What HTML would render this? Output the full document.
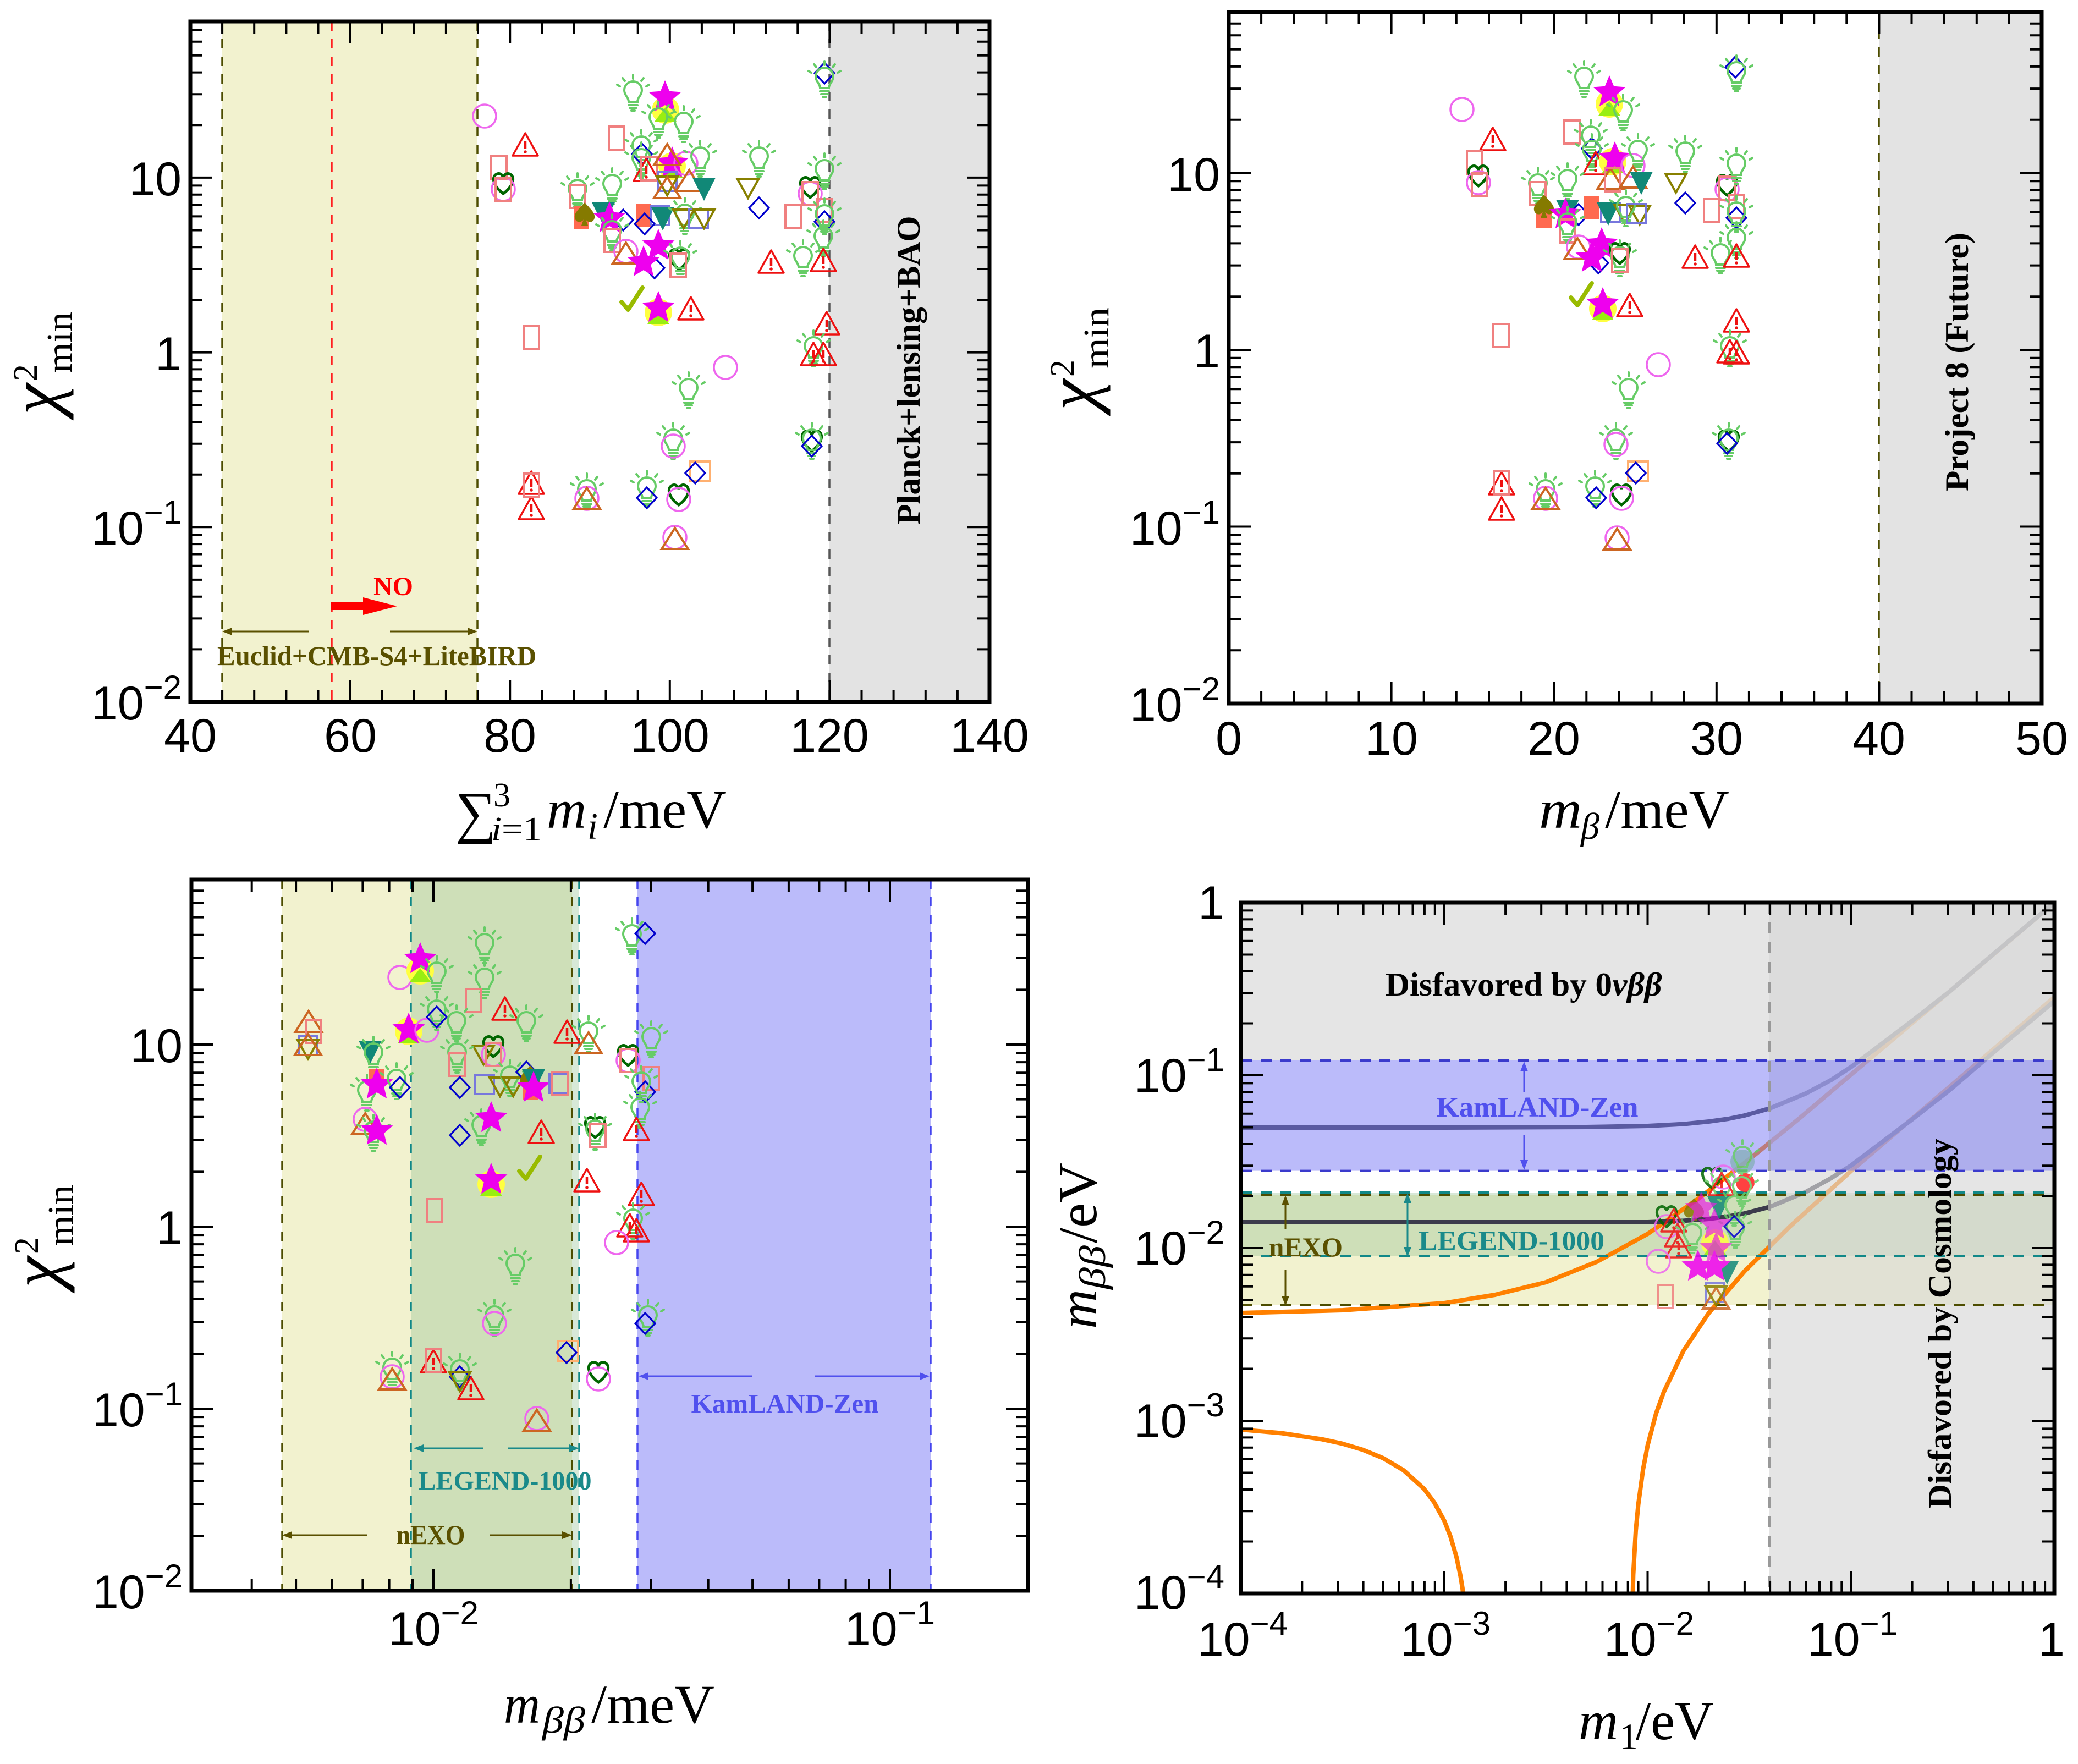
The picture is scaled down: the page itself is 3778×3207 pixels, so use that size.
<!DOCTYPE html>
<html><head><meta charset="utf-8">
<style>
html,body{margin:0;padding:0;background:#fff}
svg{display:block}
.tk{font-family:"Liberation Sans",Arial,sans-serif;font-size:86px;fill:#000}
.sp{font-size:60px}
.ti{font-family:"Liberation Serif","DejaVu Serif",serif;font-size:100px;fill:#000}
.it{font-style:italic}
.an{font-family:"Liberation Serif","DejaVu Serif",serif;font-weight:bold}
</style></head><body>
<svg xmlns="http://www.w3.org/2000/svg" width="3778" height="3207" viewBox="0 0 3778 3207">
<defs>
<clipPath id="c1"><rect x="346" y="39" width="1453" height="1237"/></clipPath>
<clipPath id="c2"><rect x="2234" y="22" width="1478" height="1257"/></clipPath>
<clipPath id="c3"><rect x="348" y="1599" width="1521" height="1293"/></clipPath>
<clipPath id="c4"><rect x="2256" y="1641" width="1479" height="1256"/></clipPath>
<g id="b" fill="none" stroke="#66cc66" stroke-width="4" stroke-linecap="round"><path d="M-8,12C-8,4 -16,0 -16,-9A16,16 0 0 1 16,-9C16,0 8,4 8,12Z"/><path d="M-8,18h16M-6,23h12M-3,28h6M0,-30v-7M-15,-26l-4,-5M15,-26l4,-5M-24,-16l-5,-3M24,-16l5,-3"/></g>
<g id="w"><polygon points="0,-25 23,16 -23,16" fill="none" stroke="#ee1111" stroke-width="3.5" stroke-linejoin="round"/><path d="M0,-11v14" stroke="#ee1111" stroke-width="4.5"/><circle cy="9" r="2.8" fill="#ee1111"/></g>
<circle id="c" r="21" fill="none" stroke="#ee66ee" stroke-width="3.5"/>
<rect id="r" x="-14" y="-21" width="28" height="42" fill="none" stroke="#f08080" stroke-width="4"/>
<polygon id="d" points="0,-19 18,0 0,19 -18,0" fill="none" stroke="#0000cc" stroke-width="3.2"/>
<polygon id="t" points="0,-21 24,17 -24,17" fill="none" stroke="#cc6622" stroke-width="4"/>
<polygon id="v" points="-19,-16 19,-16 0,18" fill="none" stroke="#888000" stroke-width="4"/>
<polygon id="f" points="-21,-20 21,-20 0,22" fill="#118877"/>
<polygon id="s" points="0,-31 8.2,-11.3 29.5,-9.6 13.3,4.3 18.2,25.1 0,14 -18.2,25.1 -13.3,4.3 -29.5,-9.6 -8.2,-11.3" fill="#ee00ee"/>
<g id="z"><circle r="25" fill="#ffff40"/><polygon points="-20,21 20,21 0,-5" fill="#99ee11"/></g>
<path id="k" d="M0,-22C10,-10 22,-2 17,9C13,16 5,14 2,9L6,20H-6L-2,9C-5,14 -13,16 -17,9C-22,-2 -10,-10 0,-22Z" fill="#857a00"/>
<rect id="q" x="-14" y="-21" width="28" height="42" fill="#ff6a50"/>
<rect id="u" x="-17" y="-17" width="34" height="34" fill="none" stroke="#7777dd" stroke-width="4"/>
<path id="h" d="M0,20C-20,5 -22,-12 -11,-16C-5,-18 -1,-13 0,-9C1,-13 5,-18 11,-16C22,-12 20,5 0,20Z" fill="none" stroke="#006600" stroke-width="5"/>
<path id="x" d="M-20,2L-8,16L18,-24" fill="none" stroke="#99bb00" stroke-width="8" stroke-linecap="round" stroke-linejoin="round"/>
<rect id="o" x="-18" y="-18" width="36" height="36" fill="none" stroke="#ffb070" stroke-width="4"/>
</defs>
<rect width="3778" height="3207" fill="#fff"/>

<!-- ================= PANEL 1 ================= -->
<g clip-path="url(#c1)">
<rect x="404" y="39" width="464" height="1237" fill="rgb(230,230,160)" opacity="0.5"/>
<rect x="1508" y="39" width="291" height="1237" fill="#e3e3e3"/>
<g stroke-width="3.5" stroke-dasharray="17 15" fill="none">
<line x1="404" y1="39" x2="404" y2="1276" stroke="#4d4d00"/>
<line x1="868" y1="39" x2="868" y2="1276" stroke="#4d4d00"/>
<line x1="603" y1="39" x2="603" y2="1276" stroke="#ff2020"/>
<line x1="1508" y1="39" x2="1508" y2="1276" stroke="#555"/>
</g>
<use href="#c" x="881" y="211"/><use href="#w" x="955" y="267"/><use href="#r" x="1121" y="251"/><use href="#r" x="907" y="304"/>
<use href="#h" x="915" y="332"/><use href="#c" x="915" y="344"/><use href="#r" x="915" y="344"/>
<use href="#b" x="1151" y="173"/><use href="#z" x="1210" y="200"/><use href="#s" x="1209" y="177"/>
<use href="#b" x="1197" y="222"/><use href="#b" x="1243" y="230"/>
<use href="#b" x="1166" y="273"/><use href="#d" x="1167" y="280"/><use href="#b" x="1166" y="296"/>
<use href="#w" x="1175" y="313"/><use href="#r" x="1180" y="307"/>
<use href="#z" x="1222" y="302"/><use href="#s" x="1222" y="297"/><use href="#c" x="1247" y="297"/>
<use href="#t" x="1213" y="283"/><use href="#u" x="1213" y="330"/><use href="#v" x="1213" y="337"/><use href="#t" x="1213" y="343"/><use href="#t" x="1253" y="330"/>
<use href="#b" x="1273" y="293"/><use href="#f" x="1280" y="343"/>
<use href="#b" x="1380" y="293"/><use href="#v" x="1360" y="342"/><use href="#d" x="1380" y="378"/>
<use href="#r" x="1442" y="393"/>
<use href="#h" x="1473" y="339"/><use href="#c" x="1473" y="352"/><use href="#r" x="1473" y="352"/><use href="#b" x="1499" y="316"/><use href="#r" x="1499" y="383"/><use href="#d" x="1499" y="403"/><use href="#b" x="1499" y="398"/>
<use href="#d" x="1499" y="133"/><use href="#b" x="1499" y="148"/>
<use href="#b" x="1050" y="352"/><use href="#r" x="1050" y="357"/><use href="#b" x="1113" y="343"/>
<use href="#q" x="1057" y="396"/><use href="#k" x="1063" y="390"/>
<use href="#f" x="1097" y="388"/><use href="#d" x="1133" y="400"/><use href="#s" x="1108" y="397"/>
<use href="#q" x="1170" y="392"/><use href="#u" x="1200" y="392"/><use href="#f" x="1205" y="397"/><use href="#d" x="1172" y="407"/><use href="#b" x="1245" y="397"/><use href="#v" x="1243" y="397"/><use href="#u" x="1270" y="397"/><use href="#v" x="1280" y="397"/>
<use href="#b" x="1113" y="427"/><use href="#r" x="1113" y="437"/>
<use href="#c" x="1138" y="457"/><use href="#t" x="1138" y="462"/>
<use href="#d" x="1190" y="487"/><use href="#s" x="1170" y="477"/><use href="#s" x="1197" y="447"/>
<use href="#h" x="1235" y="470"/><use href="#b" x="1237" y="475"/><use href="#r" x="1233" y="482"/>
<use href="#w" x="1402" y="480"/>
<use href="#b" x="1460" y="474"/><use href="#b" x="1497" y="438"/><use href="#w" x="1497" y="477"/>
<use href="#x" x="1150" y="547"/><use href="#z" x="1197" y="568"/><use href="#s" x="1197" y="560"/>
<use href="#w" x="1256" y="565"/>
<use href="#r" x="966" y="614"/>
<use href="#w" x="1503" y="592"/><use href="#b" x="1479" y="638"/><use href="#w" x="1497" y="648"/><use href="#w" x="1479" y="648"/>
<use href="#c" x="1319" y="668"/>
<use href="#b" x="1252" y="714"/>
<use href="#b" x="1224" y="806"/><use href="#c" x="1224" y="811"/>
<use href="#h" x="1476" y="800"/><use href="#b" x="1476" y="806"/><use href="#d" x="1476" y="811"/>
<use href="#o" x="1273" y="857"/><use href="#d" x="1264" y="860"/>
<use href="#w" x="966" y="882"/><use href="#w" x="966" y="928"/><use href="#r" x="966" y="882"/>
<use href="#b" x="1067" y="898"/><use href="#c" x="1067" y="906"/><use href="#t" x="1067" y="908"/>
<use href="#b" x="1176" y="893"/><use href="#d" x="1176" y="905"/>
<use href="#h" x="1234" y="898"/><use href="#c" x="1234" y="908"/>
<use href="#c" x="1227" y="977"/><use href="#t" x="1227" y="981"/>
<!-- annotations -->
<g stroke="#5a5000" stroke-width="3"><line x1="561" y1="1148" x2="420" y2="1148"/><line x1="709" y1="1148" x2="851" y2="1148"/></g>
<polygon points="404,1148 422,1141 422,1155" fill="#5a5000"/><polygon points="868,1148 850,1141 850,1155" fill="#5a5000"/>
<polygon points="602,1095 660,1095 660,1086 722,1102 660,1118 660,1109 602,1109" fill="#ff0000"/>
<text class="an" x="715" y="1082" text-anchor="middle" font-size="48" fill="#ff0000">NO</text>
<text class="an" x="685" y="1209" text-anchor="middle" font-size="50" fill="#5a5000" textLength="580" lengthAdjust="spacingAndGlyphs">Euclid+CMB-S4+LiteBIRD</text>
<text class="an" transform="translate(1672,673) rotate(-90)" text-anchor="middle" font-size="60" fill="#000" textLength="561" lengthAdjust="spacingAndGlyphs">Planck+lensing+BAO</text>
</g>
<g stroke="#000" stroke-width="4" fill="none">
<path id="p1b" d="M636.6,1276v-40M927.2,1276v-40M1217.8,1276v-40M1508.4,1276v-40M404.1,1276v-22M462.2,1276v-22M520.4,1276v-22M578.5,1276v-22M694.7,1276v-22M752.8,1276v-22M810.9,1276v-22M869,1276v-22M985.3,1276v-22M1043.4,1276v-22M1101.5,1276v-22M1159.7,1276v-22M1275.9,1276v-22M1334,1276v-22M1392.2,1276v-22M1450.3,1276v-22M1566.5,1276v-22M1624.6,1276v-22M1682.8,1276v-22M1740.9,1276v-22"/>
<use href="#p1b" transform="translate(0,1315) scale(1,-1)"/>
<path id="p1l" d="M346,958.3h40M346,640.6h40M346,322.9h40M346,1180.4h22M346,1124.4h22M346,1084.7h22M346,1053.9h22M346,1028.8h22M346,1007.5h22M346,989.1h22M346,972.8h22M346,862.7h22M346,806.7h22M346,767h22M346,736.2h22M346,711.1h22M346,689.8h22M346,671.4h22M346,655.1h22M346,545h22M346,489h22M346,449.3h22M346,418.5h22M346,393.4h22M346,372.1h22M346,353.7h22M346,337.4h22M346,227.3h22M346,171.3h22M346,131.6h22M346,100.8h22M346,75.7h22M346,54.4h22"/>
<use href="#p1l" transform="translate(2145,0) scale(-1,1)"/>
<rect x="346" y="39" width="1453" height="1237" stroke-width="7"/>
</g>
<g class="tk" text-anchor="middle">
<text x="346" y="1367">40</text><text x="637" y="1367">60</text><text x="927" y="1367">80</text><text x="1218" y="1367">100</text><text x="1508" y="1367">120</text><text x="1799" y="1367">140</text>
</g>
<g class="tk" text-anchor="end">
<text x="330" y="355">10</text><text x="330" y="673">1</text>
<text x="330" y="990">10<tspan class="sp" dy="-38">−1</tspan></text>
<text x="330" y="1308">10<tspan class="sp" dy="-38">−2</tspan></text>
</g>
<g class="ti">
<text x="828" y="1512" font-size="104">∑</text>
<text x="897" y="1466" font-size="62">3</text>
<text x="893" y="1528" font-size="62" textLength="92" lengthAdjust="spacingAndGlyphs"><tspan class="it">i</tspan>=1</text>
<text x="994" y="1505" class="it">m</text>
<text x="1068" y="1525" font-size="68" class="it">i</text>
<text x="1097" y="1505" textLength="224" lengthAdjust="spacingAndGlyphs">/meV</text>
</g>
<g class="ti" transform="translate(106,658) rotate(-90)">
<text x="-96" y="0" font-size="128" class="it">χ</text>
<text x="-35" y="-39" font-size="62">2</text>
<text x="-20" y="24" font-size="66" textLength="111" lengthAdjust="spacingAndGlyphs">min</text>
</g>

<!-- ================= PANEL 2 ================= -->
<g clip-path="url(#c2)">
<rect x="3416" y="22" width="296" height="1257" fill="#e3e3e3"/>
<line x1="3416" y1="22" x2="3416" y2="1279" stroke="#4d4d00" stroke-width="3.5" stroke-dasharray="17 15"/>
<use href="#c" x="2658" y="199"/><use href="#w" x="2714" y="257"/><use href="#r" x="2858" y="240"/>
<use href="#r" x="2681" y="296"/><use href="#h" x="2688" y="318"/><use href="#c" x="2688" y="332"/><use href="#r" x="2690" y="335"/>
<use href="#b" x="2880" y="148"/><use href="#z" x="2926" y="189"/><use href="#s" x="2926" y="168"/><use href="#b" x="2951" y="209"/>
<use href="#b" x="2892" y="255"/><use href="#d" x="2894" y="270"/><use href="#b" x="2894" y="281"/>
<use href="#w" x="2901" y="301"/><use href="#z" x="2932" y="294"/><use href="#s" x="2936" y="288"/><use href="#c" x="2969" y="301"/><use href="#b" x="2978" y="281"/>
<use href="#t" x="2928" y="327"/><use href="#r" x="2932" y="327"/><use href="#t" x="2969" y="324"/><use href="#f" x="2984" y="332"/>
<use href="#b" x="3064" y="284"/><use href="#v" x="3047" y="332"/><use href="#d" x="3064" y="369"/>
<use href="#r" x="3112" y="383"/>
<use href="#h" x="3140" y="335"/><use href="#c" x="3140" y="344"/><use href="#r" x="3140" y="342"/><use href="#b" x="3157" y="306"/><use href="#r" x="3157" y="376"/><use href="#d" x="3157" y="396"/><use href="#b" x="3157" y="393"/><use href="#b" x="3157" y="441"/>
<use href="#d" x="3155" y="122"/><use href="#b" x="3157" y="138"/>
<use href="#b" x="2796" y="342"/><use href="#r" x="2796" y="352"/><use href="#b" x="2850" y="334"/>
<use href="#q" x="2807" y="393"/><use href="#k" x="2807" y="376"/><use href="#f" x="2850" y="383"/><use href="#d" x="2870" y="390"/><use href="#s" x="2846" y="390"/>
<use href="#q" x="2894" y="378"/><use href="#u" x="2928" y="386"/><use href="#f" x="2924" y="388"/><use href="#v" x="2954" y="388"/><use href="#v" x="2981" y="390"/><use href="#b" x="2956" y="383"/><use href="#u" x="2975" y="388"/>
<use href="#r" x="2850" y="420"/><use href="#b" x="2850" y="413"/>
<use href="#c" x="2870" y="449"/><use href="#t" x="2868" y="454"/>
<use href="#d" x="2906" y="478"/><use href="#s" x="2894" y="469"/><use href="#s" x="2912" y="444"/>
<use href="#h" x="2945" y="459"/><use href="#b" x="2945" y="474"/><use href="#r" x="2945" y="474"/>
<use href="#w" x="3082" y="471"/><use href="#b" x="3128" y="469"/><use href="#w" x="3157" y="469"/>
<use href="#x" x="2876" y="539"/><use href="#z" x="2914" y="561"/><use href="#s" x="2914" y="553"/>
<use href="#w" x="2963" y="559"/>
<use href="#r" x="2729" y="610"/>
<use href="#w" x="3157" y="587"/><use href="#b" x="3145" y="638"/><use href="#w" x="3145" y="643"/><use href="#w" x="3157" y="645"/>
<use href="#c" x="3015" y="663"/>
<use href="#b" x="2961" y="714"/>
<use href="#b" x="2938" y="806"/><use href="#c" x="2938" y="808"/>
<use href="#h" x="3143" y="800"/><use href="#b" x="3143" y="806"/><use href="#d" x="3140" y="806"/>
<use href="#o" x="2978" y="857"/><use href="#d" x="2974" y="860"/>
<use href="#w" x="2730" y="883"/><use href="#w" x="2730" y="929"/><use href="#r" x="2730" y="878"/>
<use href="#b" x="2810" y="898"/><use href="#c" x="2810" y="906"/><use href="#t" x="2810" y="908"/>
<use href="#b" x="2900" y="893"/><use href="#d" x="2902" y="905"/>
<use href="#h" x="2948" y="898"/><use href="#c" x="2948" y="906"/>
<use href="#c" x="2940" y="978"/><use href="#t" x="2940" y="982"/>
<text class="an" transform="translate(3578,658) rotate(-90)" text-anchor="middle" font-size="60" fill="#000" textLength="470" lengthAdjust="spacingAndGlyphs">Project 8 (Future)</text>
</g>
<g stroke="#000" stroke-width="4" fill="none">
<path id="p2b" d="M2529.6,1279v-40M2825.2,1279v-40M3120.8,1279v-40M3416.4,1279v-40M2293.1,1279v-22M2352.2,1279v-22M2411.4,1279v-22M2470.5,1279v-22M2588.7,1279v-22M2647.8,1279v-22M2707,1279v-22M2766.1,1279v-22M2884.3,1279v-22M2943.4,1279v-22M3002.6,1279v-22M3061.7,1279v-22M3179.9,1279v-22M3239,1279v-22M3298.2,1279v-22M3357.3,1279v-22M3475.5,1279v-22M3534.6,1279v-22M3593.8,1279v-22M3652.9,1279v-22"/>
<use href="#p2b" transform="translate(0,1301) scale(1,-1)"/>
<path id="p2l" d="M2234,957.5h40M2234,636h40M2234,314.5h40M2234,1182.2h22M2234,1125.6h22M2234,1085.4h22M2234,1054.3h22M2234,1028.8h22M2234,1007.3h22M2234,988.7h22M2234,972.2h22M2234,860.7h22M2234,804.1h22M2234,763.9h22M2234,732.8h22M2234,707.3h22M2234,685.8h22M2234,667.2h22M2234,650.7h22M2234,539.2h22M2234,482.6h22M2234,442.4h22M2234,411.3h22M2234,385.8h22M2234,364.3h22M2234,345.7h22M2234,329.2h22M2234,217.7h22M2234,161.1h22M2234,120.9h22M2234,89.8h22M2234,64.3h22M2234,42.8h22"/>
<use href="#p2l" transform="translate(5946,0) scale(-1,1)"/>
<rect x="2234" y="22" width="1478" height="1257" stroke-width="7"/>
</g>
<g class="tk" text-anchor="middle">
<text x="2234" y="1372">0</text><text x="2530" y="1372">10</text><text x="2825" y="1372">20</text><text x="3121" y="1372">30</text><text x="3416" y="1372">40</text><text x="3712" y="1372">50</text>
</g>
<g class="tk" text-anchor="end">
<text x="2218" y="347">10</text><text x="2218" y="668">1</text>
<text x="2218" y="990">10<tspan class="sp" dy="-38">−1</tspan></text>
<text x="2218" y="1311">10<tspan class="sp" dy="-38">−2</tspan></text>
</g>
<g class="ti">
<text x="2798" y="1505" class="it" textLength="78" lengthAdjust="spacingAndGlyphs">m</text>
<text x="2874" y="1525" font-size="68" class="it">β</text>
<text x="2918" y="1505" textLength="226" lengthAdjust="spacingAndGlyphs">/meV</text>
</g>
<g class="ti" transform="translate(1991,650) rotate(-90)">
<text x="-96" y="0" font-size="128" class="it">χ</text>
<text x="-35" y="-39" font-size="62">2</text>
<text x="-20" y="24" font-size="66" textLength="111" lengthAdjust="spacingAndGlyphs">min</text>
</g>

<!-- ================= PANEL 3 ================= -->
<g clip-path="url(#c3)">
<rect x="513" y="1599" width="527" height="1293" fill="rgb(230,230,160)" opacity="0.5"/>
<rect x="747" y="1599" width="306" height="1293" fill="rgb(140,190,140)" opacity="0.35"/>
<rect x="1159" y="1599" width="533" height="1293" fill="rgb(120,120,245)" opacity="0.5"/>
<g stroke-width="3.5" stroke-dasharray="17 15" fill="none">
<line x1="513" y1="1599" x2="513" y2="2892" stroke="#4d4d00"/>
<line x1="1040" y1="1599" x2="1040" y2="2892" stroke="#4d4d00"/>
<line x1="747" y1="1599" x2="747" y2="2892" stroke="#118888"/>
<line x1="1053" y1="1599" x2="1053" y2="2892" stroke="#118888"/>
<line x1="1159" y1="1599" x2="1159" y2="2892" stroke="#4444ee"/>
<line x1="1692" y1="1599" x2="1692" y2="2892" stroke="#4444ee"/>
</g>
<use href="#t" x="561" y="1859"/><use href="#r" x="570" y="1875"/><use href="#u" x="560" y="1901"/><use href="#v" x="560" y="1907"/><use href="#t" x="560" y="1901"/>
<use href="#f" x="673" y="1912"/><use href="#b" x="679" y="1922"/>
<use href="#q" x="685" y="1964"/><use href="#b" x="667" y="1991"/><use href="#c" x="664" y="2035"/><use href="#t" x="664" y="2045"/><use href="#b" x="679" y="2064"/><use href="#s" x="685" y="1972"/><use href="#s" x="685" y="2056"/>
<use href="#b" x="721" y="1970"/><use href="#d" x="727" y="1977"/>
<use href="#c" x="727" y="1777"/><use href="#z" x="764" y="1765"/><use href="#s" x="764" y="1744"/><use href="#b" x="794" y="1775"/>
<use href="#z" x="743" y="1875"/><use href="#s" x="743" y="1872"/><use href="#c" x="776" y="1873"/>
<use href="#b" x="881" y="1723"/><use href="#b" x="881" y="1786"/><use href="#r" x="861" y="1819"/><use href="#w" x="918" y="1838"/>
<use href="#b" x="794" y="1844"/><use href="#d" x="794" y="1849"/><use href="#b" x="830" y="1865"/><use href="#b" x="957" y="1865"/>
<use href="#h" x="897" y="1901"/><use href="#v" x="879" y="1917"/><use href="#c" x="897" y="1917"/><use href="#r" x="897" y="1917"/>
<use href="#b" x="831" y="1922"/><use href="#r" x="831" y="1935"/>
<use href="#d" x="836" y="1977"/><use href="#u" x="881" y="1972"/><use href="#v" x="909" y="1975"/><use href="#b" x="927" y="1964"/><use href="#v" x="933" y="1975"/><use href="#d" x="957" y="1949"/><use href="#q" x="964" y="1978"/><use href="#k" x="964" y="1959"/><use href="#f" x="970" y="1964"/><use href="#s" x="970" y="1978"/><use href="#u" x="1016" y="1970"/><use href="#r" x="1018" y="1970"/>
<use href="#b" x="875" y="2054"/><use href="#d" x="836" y="2064"/><use href="#s" x="893" y="2033"/>
<use href="#w" x="984" y="2062"/>
<use href="#x" x="964" y="2127"/><use href="#z" x="893" y="2153"/><use href="#s" x="893" y="2145"/>
<use href="#w" x="1031" y="1880"/><use href="#b" x="1070" y="1884"/><use href="#t" x="1070" y="1898"/><use href="#w" x="1067" y="2150"/>
<use href="#h" x="1082" y="2048"/><use href="#b" x="1082" y="2062"/><use href="#r" x="1087" y="2064"/>
<use href="#h" x="1142" y="1917"/><use href="#c" x="1142" y="1928"/><use href="#r" x="1142" y="1928"/><use href="#b" x="1184" y="1894"/><use href="#r" x="1184" y="1961"/><use href="#d" x="1173" y="1985"/><use href="#b" x="1166" y="1975"/><use href="#b" x="1164" y="2022"/><use href="#w" x="1157" y="2057"/><use href="#w" x="1166" y="2175"/><use href="#b" x="1151" y="2224"/><use href="#w" x="1145" y="2232"/><use href="#w" x="1157" y="2241"/>
<use href="#b" x="1149" y="1707"/><use href="#d" x="1173" y="1697"/>
<use href="#r" x="790" y="2201"/>
<use href="#c" x="1121" y="2259"/>
<use href="#b" x="937" y="2306"/>
<use href="#b" x="899" y="2400"/><use href="#c" x="899" y="2406"/>
<use href="#b" x="1178" y="2400"/><use href="#d" x="1173" y="2406"/>
<use href="#o" x="1033" y="2456"/><use href="#d" x="1030" y="2459"/>
<use href="#w" x="788" y="2479"/><use href="#w" x="856" y="2528"/><use href="#r" x="788" y="2474"/>
<use href="#b" x="713" y="2495"/><use href="#c" x="713" y="2503"/><use href="#t" x="713" y="2509"/>
<use href="#b" x="836" y="2498"/><use href="#d" x="836" y="2503"/><use href="#v" x="836" y="2511"/>
<use href="#h" x="1088" y="2493"/><use href="#c" x="1088" y="2507"/>
<use href="#c" x="976" y="2579"/><use href="#t" x="976" y="2584"/>
<!-- annotations -->
<g stroke-width="3">
<line x1="667" y1="2791" x2="531" y2="2791" stroke="#5a5000"/><line x1="891" y1="2791" x2="1022" y2="2791" stroke="#5a5000"/>
<line x1="879" y1="2633" x2="770" y2="2633" stroke="#1a8a8a"/><line x1="924" y1="2633" x2="1035" y2="2633" stroke="#1a8a8a"/>
<line x1="1367" y1="2502" x2="1179" y2="2502" stroke="#5050ee"/><line x1="1481" y1="2502" x2="1672" y2="2502" stroke="#5050ee"/>
</g>
<polygon points="513,2791 531,2784 531,2798" fill="#5a5000"/><polygon points="1040,2791 1022,2784 1022,2798" fill="#5a5000"/>
<polygon points="752,2633 770,2626 770,2640" fill="#1a8a8a"/><polygon points="1053,2633 1035,2626 1035,2640" fill="#1a8a8a"/>
<polygon points="1161,2502 1179,2495 1179,2509" fill="#5050ee"/><polygon points="1690,2502 1672,2495 1672,2509" fill="#5050ee"/>
<text class="an" x="783" y="2807" text-anchor="middle" font-size="50" fill="#5a5000" textLength="125" lengthAdjust="spacingAndGlyphs">nEXO</text>
<text class="an" x="918" y="2708" text-anchor="middle" font-size="48" fill="#1a8a8a" textLength="315" lengthAdjust="spacingAndGlyphs">LEGEND-1000</text>
<text class="an" x="1427" y="2568" text-anchor="middle" font-size="49" fill="#5050ee" textLength="341" lengthAdjust="spacingAndGlyphs">KamLAND-Zen</text>
</g>
<g stroke="#000" stroke-width="4" fill="none">
<path id="p3b" d="M788,2892v-40M1618,2892v-40M457.7,2892v-22M538.1,2892v-22M603.9,2892v-22M659.4,2892v-22M707.6,2892v-22M750,2892v-22M1037.9,2892v-22M1184,2892v-22M1287.7,2892v-22M1368.1,2892v-22M1433.9,2892v-22M1489.4,2892v-22M1537.6,2892v-22M1580,2892v-22"/>
<use href="#p3b" transform="translate(0,4491) scale(1,-1)"/>
<path id="p3l" d="M348,2561h40M348,2230h40M348,1899h40M348,2792.4h22M348,2734.1h22M348,2692.7h22M348,2660.6h22M348,2634.4h22M348,2612.3h22M348,2593.1h22M348,2576.1h22M348,2461.4h22M348,2403.1h22M348,2361.7h22M348,2329.6h22M348,2303.4h22M348,2281.3h22M348,2262.1h22M348,2245.1h22M348,2130.4h22M348,2072.1h22M348,2030.7h22M348,1998.6h22M348,1972.4h22M348,1950.3h22M348,1931.1h22M348,1914.1h22M348,1799.4h22M348,1741.1h22M348,1699.7h22M348,1667.6h22M348,1641.4h22M348,1619.3h22"/>
<use href="#p3l" transform="translate(2217,0) scale(-1,1)"/>
<rect x="348" y="1599" width="1521" height="1293" stroke-width="7"/>
</g>
<g class="tk" text-anchor="middle">
<text x="788" y="2991">10<tspan class="sp" dy="-38">−2</tspan></text>
<text x="1618" y="2991">10<tspan class="sp" dy="-38">−1</tspan></text>
</g>
<g class="tk" text-anchor="end">
<text x="332" y="1931">10</text><text x="332" y="2262">1</text>
<text x="332" y="2593">10<tspan class="sp" dy="-38">−1</tspan></text>
<text x="332" y="2924">10<tspan class="sp" dy="-38">−2</tspan></text>
</g>
<g class="ti">
<text x="916" y="3132" class="it" textLength="66" lengthAdjust="spacingAndGlyphs">m</text>
<text x="986" y="3150" font-size="68" class="it" textLength="78" lengthAdjust="spacingAndGlyphs">ββ</text>
<text x="1075" y="3132" textLength="224" lengthAdjust="spacingAndGlyphs">/meV</text>
</g>
<g class="ti" transform="translate(108,2245) rotate(-90)">
<text x="-96" y="0" font-size="128" class="it">χ</text>
<text x="-35" y="-39" font-size="62">2</text>
<text x="-20" y="24" font-size="66" textLength="111" lengthAdjust="spacingAndGlyphs">min</text>
</g>

<!-- ================= PANEL 4 ================= -->
<g clip-path="url(#c4)">
<rect x="2256" y="2172.5" width="1479" height="199.5" fill="rgb(230,230,160)" opacity="0.5"/>
<rect x="2256" y="2168" width="1479" height="115.4" fill="rgb(140,190,140)" opacity="0.35"/>
<g fill="none" stroke-width="8" stroke-linejoin="round" stroke-linecap="round">
<path d="M2256,2387L2441,2382L2626,2369L2718,2354L2811,2331L2903,2294L2996,2243L3088,2179L3180,2108L3273,2032L3365,1954L3550,1798L3735,1641" stroke="#ff8000"/>
<path d="M2256,2599L2330,2605.5L2403.9,2616.7L2440.9,2624.7L2477.9,2635.8L2514.8,2651L2551.8,2673L2588.8,2706.5L2607.3,2731L2625.8,2764.8L2636.8,2792.6L2647.9,2830.3L2655.3,2865.3L2658.9,2887.3L2660.9,2905" stroke="#ff8000"/>
<path d="M2968.4,2905L2969.4,2863L2974,2783L2978.6,2735L2987.3,2671L2995.5,2628L3010.8,2570L3024.8,2531L3060.6,2456L3106.8,2387L3171.9,2311L3254,2230L3365.3,2129L3550.1,1971L3735,1813" stroke="#ff8000"/>
<path d="M2256,2050L2626,2050L2884,2049L2995.5,2047L3060.6,2043.6L3106.8,2039L3142.6,2034L3171.9,2028L3218.1,2015L3283.2,1988L3329.4,1963.4L3365.3,1940L3476.6,1856L3543.8,1803.3L3623.7,1735L3735,1641" stroke="#3c3c4c"/>
<path d="M2256,2222L2995.5,2222L3060.6,2219.4L3106.8,2216L3142.6,2211.3L3171.9,2206L3218.1,2194L3283.2,2167L3329.4,2141.8L3365.3,2119L3476.6,2035L3543.8,1982.5L3623.7,1914L3735,1820" stroke="#3c3c4c"/>
</g>
<rect x="2256" y="1641" width="1479" height="287" fill="#d7d7d7" opacity="0.65"/>
<rect x="3217" y="1641" width="518" height="1256" fill="#d7d7d7" opacity="0.65"/>
<rect x="2256" y="1928" width="1479" height="200.6" fill="rgb(120,120,245)" opacity="0.5"/>
<g stroke-width="4" stroke-dasharray="20 16" fill="none">
<line x1="2256" y1="1928" x2="3735" y2="1928" stroke="#3a3acc"/>
<line x1="2256" y1="2128.6" x2="3735" y2="2128.6" stroke="#3a3acc"/>
<line x1="2256" y1="2168" x2="3735" y2="2168" stroke="#118888"/>
<line x1="2256" y1="2283.4" x2="3735" y2="2283.4" stroke="#118888"/>
<line x1="2256" y1="2172.5" x2="3735" y2="2172.5" stroke="#4d4d00"/>
<line x1="2256" y1="2372" x2="3735" y2="2372" stroke="#4d4d00"/>
<line x1="3217" y1="1641" x2="3217" y2="2897" stroke="#999"/>
</g>
<g opacity="0.85">
<circle cx="3168" cy="2112" r="22" fill="#8ab0c0"/><use href="#b" x="3168" y="2110"/>
<use href="#h" x="3113" y="2140"/><use href="#c" x="3133" y="2140"/><circle cx="3173" cy="2150" r="17" fill="#ff2020"/><use href="#b" x="3130" y="2165"/><use href="#b" x="3167" y="2165"/><use href="#w" x="3130" y="2157"/>
<use href="#k" x="3080" y="2200"/><use href="#f" x="3125" y="2195"/>
<use href="#h" x="3030" y="2210"/><use href="#c" x="3030" y="2230"/><use href="#w" x="3043" y="2223"/><use href="#w" x="3050" y="2250"/><use href="#w" x="3052" y="2270"/>
<use href="#c" x="3015" y="2293"/><use href="#r" x="3028" y="2357"/>
<use href="#b" x="3077" y="2250"/><use href="#b" x="3153" y="2200"/><use href="#b" x="3155" y="2240"/><use href="#d" x="3153" y="2230"/>
<use href="#z" x="3118" y="2260"/>
<g opacity="0.7"><use href="#s" x="3093" y="2197"/><use href="#s" x="3117" y="2227"/><use href="#s" x="3120" y="2270"/></g>
<use href="#u" x="3118" y="2350"/><use href="#t" x="3120" y="2362"/><use href="#v" x="3120" y="2355"/>
<use href="#f" x="3140" y="2313"/><use href="#s" x="3087" y="2303"/><use href="#s" x="3117" y="2303"/>
</g>
<!-- annotations -->
<text class="an" x="2770" y="1810" text-anchor="middle" font-size="60" fill="#000" textLength="503" lengthAdjust="spacingAndGlyphs">Disfavored by 0<tspan font-style="italic">νββ</tspan></text>
<g stroke-width="3">
<line x1="2771" y1="1985" x2="2771" y2="1948" stroke="#5050ee"/><line x1="2771" y1="2064" x2="2771" y2="2109" stroke="#5050ee"/>
<line x1="2559" y1="2187" x2="2559" y2="2267" stroke="#1a8a8a"/>
<line x1="2337" y1="2235" x2="2337" y2="2191" stroke="#5a5000"/><line x1="2337" y1="2309" x2="2337" y2="2356" stroke="#5a5000"/>
</g>
<polygon points="2771,1930 2764,1948 2778,1948" fill="#5050ee"/><polygon points="2771,2127 2764,2109 2778,2109" fill="#5050ee"/>
<polygon points="2559,2169 2552,2187 2566,2187" fill="#1a8a8a"/><polygon points="2559,2285 2552,2267 2566,2267" fill="#1a8a8a"/>
<polygon points="2337,2173 2330,2191 2344,2191" fill="#5a5000"/><polygon points="2337,2374 2330,2356 2344,2356" fill="#5a5000"/>
<text class="an" x="2795" y="2030" text-anchor="middle" font-size="52" fill="#5050ee" textLength="367" lengthAdjust="spacingAndGlyphs">KamLAND-Zen</text>
<text class="an" x="2748" y="2272" text-anchor="middle" font-size="50" fill="#1a8a8a" textLength="338" lengthAdjust="spacingAndGlyphs">LEGEND-1000</text>
<text class="an" x="2307" y="2284" font-size="50" fill="#5a5000" textLength="134" lengthAdjust="spacingAndGlyphs">nEXO</text>
<text class="an" transform="translate(3547,2406) rotate(-90)" text-anchor="middle" font-size="60" fill="#000" textLength="673" lengthAdjust="spacingAndGlyphs">Disfavored by Cosmology</text>
</g>
<g stroke="#000" stroke-width="4" fill="none">
<path id="p4b" d="M2625.8,2897v-40M2995.5,2897v-40M3365.3,2897v-40M2367.3,2897v-22M2432.4,2897v-22M2478.6,2897v-22M2514.4,2897v-22M2543.7,2897v-22M2568.5,2897v-22M2589.9,2897v-22M2608.8,2897v-22M2737.1,2897v-22M2802.2,2897v-22M2848.4,2897v-22M2884.2,2897v-22M2913.5,2897v-22M2938.3,2897v-22M2959.7,2897v-22M2978.6,2897v-22M3106.8,2897v-22M3171.9,2897v-22M3218.1,2897v-22M3253.9,2897v-22M3283.2,2897v-22M3308,2897v-22M3329.4,2897v-22M3348.3,2897v-22M3476.6,2897v-22M3541.7,2897v-22M3587.9,2897v-22M3623.7,2897v-22M3653,2897v-22M3677.8,2897v-22M3699.2,2897v-22M3718.1,2897v-22"/>
<use href="#p4b" transform="translate(0,4538) scale(1,-1)"/>
<path id="p4l" d="M2256,2583h40M2256,2269h40M2256,1955h40M2256,2802.5h22M2256,2747.2h22M2256,2708h22M2256,2677.5h22M2256,2652.7h22M2256,2631.7h22M2256,2613.4h22M2256,2597.4h22M2256,2488.5h22M2256,2433.2h22M2256,2394h22M2256,2363.5h22M2256,2338.7h22M2256,2317.7h22M2256,2299.4h22M2256,2283.4h22M2256,2174.5h22M2256,2119.2h22M2256,2080h22M2256,2049.5h22M2256,2024.7h22M2256,2003.7h22M2256,1985.4h22M2256,1969.4h22M2256,1860.5h22M2256,1805.2h22M2256,1766h22M2256,1735.5h22M2256,1710.7h22M2256,1689.7h22M2256,1671.4h22M2256,1655.4h22"/>
<use href="#p4l" transform="translate(5991,0) scale(-1,1)"/>
<rect x="2256" y="1641" width="1479" height="1256" stroke-width="7"/>
</g>
<g class="tk" text-anchor="middle">
<text x="2259" y="3010">10<tspan class="sp" dy="-38">−4</tspan></text>
<text x="2628" y="3010">10<tspan class="sp" dy="-38">−3</tspan></text>
<text x="2998" y="3010">10<tspan class="sp" dy="-38">−2</tspan></text>
<text x="3368" y="3010">10<tspan class="sp" dy="-38">−1</tspan></text>
<text x="3730" y="3010">1</text>
</g>
<g class="tk" text-anchor="end">
<text x="2226" y="1671">1</text>
<text x="2226" y="1985">10<tspan class="sp" dy="-38">−1</tspan></text>
<text x="2226" y="2299">10<tspan class="sp" dy="-38">−2</tspan></text>
<text x="2226" y="2613">10<tspan class="sp" dy="-38">−3</tspan></text>
<text x="2226" y="2925">10<tspan class="sp" dy="-38">−4</tspan></text>
</g>
<g class="ti">
<text x="2870" y="3162" class="it" textLength="72" lengthAdjust="spacingAndGlyphs">m</text>
<text x="2944" y="3180" font-size="68">1</text>
<text x="2974" y="3162" textLength="142" lengthAdjust="spacingAndGlyphs">/eV</text>
</g>
<g class="ti" transform="translate(1993,2265) rotate(-90)">
<text x="-151" y="0" class="it" textLength="72" lengthAdjust="spacingAndGlyphs">m</text>
<text x="-79" y="16" font-size="68" class="it" textLength="80" lengthAdjust="spacingAndGlyphs">ββ</text>
<text x="5" y="0" textLength="146" lengthAdjust="spacingAndGlyphs">/eV</text>
</g>
</svg>
</body></html>
